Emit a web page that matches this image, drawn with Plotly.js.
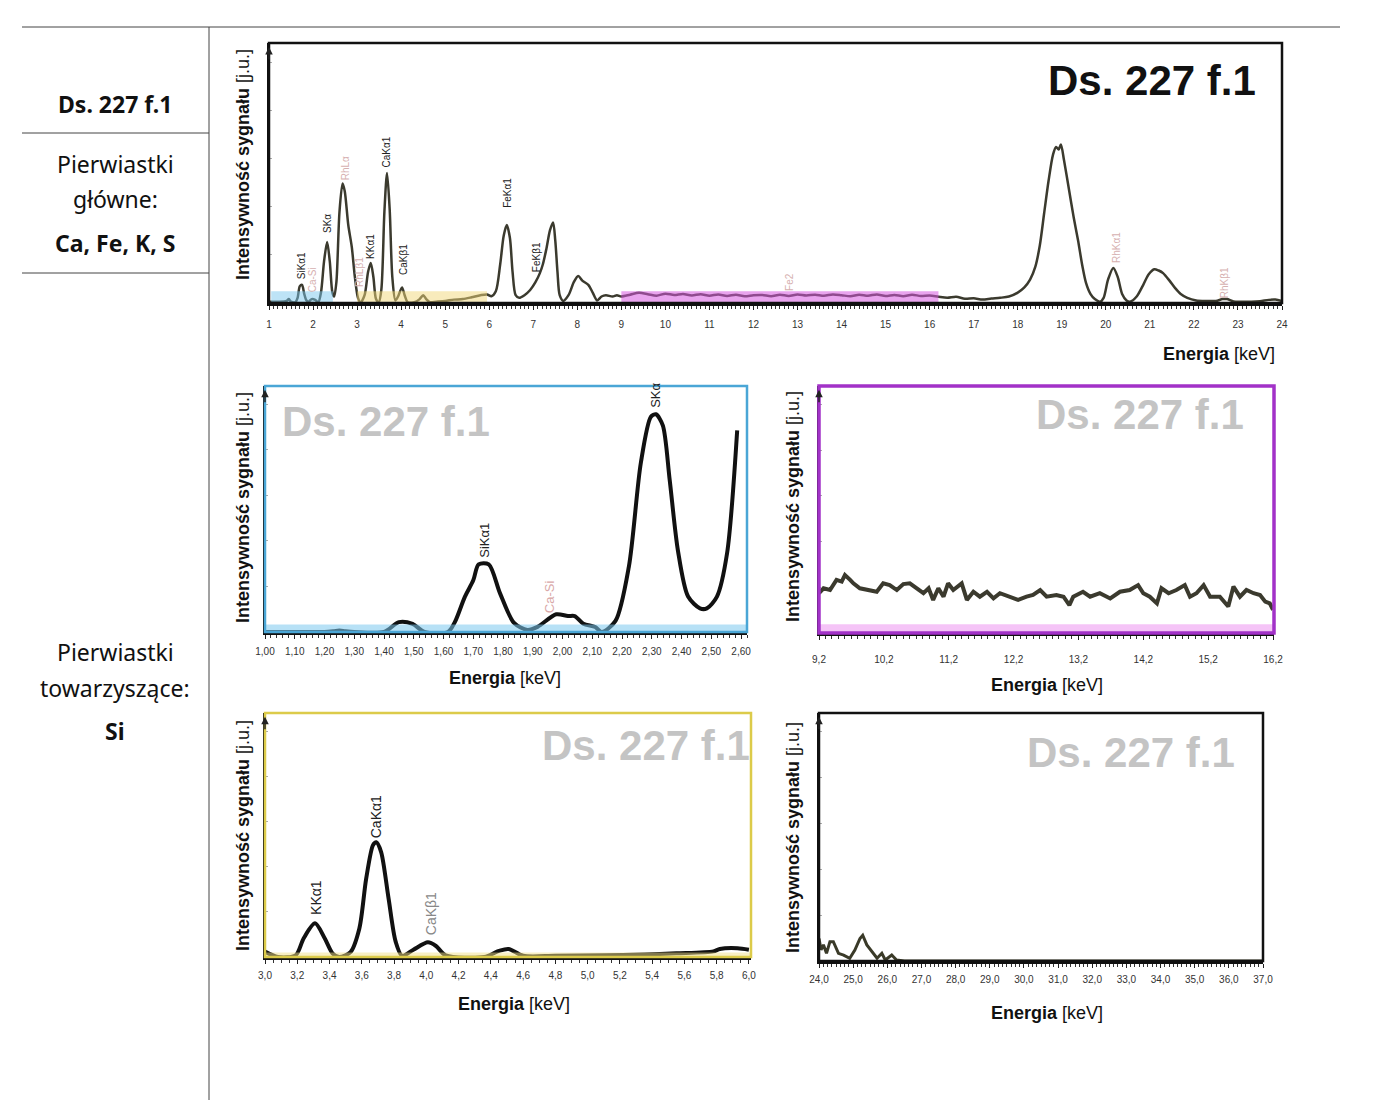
<!DOCTYPE html>
<html>
<head>
<meta charset="utf-8">
<script src="https://cdn.plot.ly/plotly-3.0.1.min.js"></script>
<style>html,body{margin:0;padding:0;background:#fff;}#chart{width:1400px;height:1100px;}</style>
</head>
<body>
<div id="chart"></div>
<script>
// ---------- DATA ----------
// Overview spectrum (1–24 keV)
const topX = [1.0,1.2,1.4,1.45,1.5,1.6,1.65,1.7,1.75,1.8,1.85,1.9,1.97,2.05,2.12,2.18,2.25,2.32,2.38,2.44,2.48,2.53,2.6,2.67,2.72,2.8,2.88,2.95,3.02,3.08,3.17,3.25,3.31,3.37,3.43,3.49,3.55,3.62,3.68,3.74,3.8,3.87,3.93,4.02,4.08,4.15,4.3,4.42,4.5,4.57,4.65,4.8,5.0,5.2,5.4,5.6,5.8,5.95,6.05,6.15,6.25,6.33,6.4,6.47,6.53,6.6,6.68,6.8,6.93,7.05,7.15,7.22,7.3,7.38,7.45,7.5,7.55,7.6,7.68,7.8,7.92,8.02,8.12,8.25,8.35,8.45,8.55,8.65,8.8,8.9,9.0,
  9.2,9.4,9.6,9.8,10.0,10.2,10.4,10.6,10.8,11.0,11.2,11.4,11.6,11.8,12.0,12.2,12.4,12.6,12.8,13.0,13.2,13.4,13.6,13.8,14.0,14.2,14.4,14.6,14.8,15.0,15.2,15.4,15.6,15.8,16.0,16.2,
  16.4,16.6,16.8,17.0,17.2,17.4,17.6,17.8,18.0,18.15,18.28,18.4,18.5,18.6,18.7,18.8,18.87,18.93,18.98,19.05,19.17,19.27,19.37,19.47,19.55,19.65,19.75,19.87,19.95,20.05,20.17,20.27,20.37,20.47,20.55,20.7,20.85,20.97,21.1,21.2,21.3,21.45,21.57,21.7,21.85,22.05,22.3,22.5,22.65,22.75,22.9,23.1,23.3,23.5,23.7,23.85,24.0];
const topY = [0.5,0.5,0.8,1.5,0.5,0.3,2,6.5,7,3.5,1,0.5,1.5,1.2,0.3,4,16,23.5,16,4,2.5,8,35,46,43,30,21.5,10,2,0.2,3,12,15.4,10,1.5,0.2,5,35,50,36,10,1,2.5,6,3,0.3,0.3,1.5,3,1.5,0.3,0.5,0.8,1.3,1.5,2.2,3,3.3,2.6,4.5,15,26,30,25,12,3,2,3,5,8,11.5,15,21,28,31,24,12,3,0.8,3,8,10.4,8.5,7,4,1,2.5,3,2.5,3,2.5,
  3.2,3.9,3.4,2.8,3.6,3.1,3.5,2.9,3.4,2.8,3.3,2.7,3.2,2.6,3.0,3.1,2.6,3.2,2.7,3.3,2.9,3.2,2.8,3.3,3.0,2.6,3.2,2.8,3.3,2.7,3.1,2.6,3.2,2.7,2.9,2.4,
  2.0,2.4,1.6,1.8,1.3,1.7,2.0,2.5,4,6,9,14,22,34.6,47,57,60,59,61,55,43,33,24,14,7.7,3.5,1.5,0.5,2,9,13.5,10,3.5,1,0.5,2.5,7,11,13,12.5,11.5,8.5,5.8,3.5,2,1,0.8,0.8,1.5,1.5,0.6,0.5,0.5,0.7,1.2,1.3,0.8];
const topLabels = ["SiKα1","Ca-Si","SKα","RhLα","RhLβ1","KKα1","CaKα1","CaKβ1","FeKα1","FeKβ1","Fe2","RhKα1","RhKβ1"];
const topLabelX = [1.73,1.98,2.34,2.73,3.04,3.29,3.67,4.04,6.40,7.09,12.83,20.23,22.71];
const topLabelY = [14.2,8.8,30.4,51.9,11.9,21.9,58.1,16.9,42.3,17.7,8.1,21.5,7.7];
const topLabelMain = [true,false,true,false,false,true,true,true,true,true,false,false,false];

// Zoom 1.0–2.6 keV
const siX = [1.0,1.1,1.2,1.23,1.25,1.27,1.3,1.4,1.45,1.496,1.536,1.615,1.638,1.672,1.70,1.718,1.752,1.79,1.837,1.882,1.916,1.979,2.018,2.041,2.07,2.11,2.132,2.178,2.223,2.263,2.297,2.314,2.337,2.36,2.388,2.422,2.462,2.485,2.519,2.553,2.587];
const siY = [0,0,0,0.3,0.6,0.3,0,0,4,3.3,0,0,4,14.4,21,27.5,27.5,15.7,3.7,0.8,2.1,7.2,6.5,6.5,3.4,2,0,4.5,26.6,68.6,87.5,88.5,84,62,33,14.4,9.6,9.6,14.4,32,82];
const siLabels = ["SiKα1","Ca-Si","SKα"];
const siLabelX = [1.735,1.955,2.31];
const siLabelY = [37.4,14.2,96.3];

// Zoom 9.2–16.2 keV
const bgX = [9.2,9.27,9.37,9.47,9.55,9.60,9.68,9.73,9.83,9.99,10.09,10.19,10.29,10.40,10.50,10.60,10.71,10.81,10.89,10.96,11.04,11.12,11.19,11.27,11.40,11.48,11.58,11.68,11.79,11.89,11.99,12.14,12.27,12.40,12.50,12.61,12.71,12.86,12.97,13.06,13.12,13.27,13.38,13.53,13.69,13.84,13.99,14.12,14.20,14.30,14.41,14.48,14.59,14.71,14.84,14.92,15.02,15.13,15.23,15.38,15.51,15.59,15.69,15.79,15.90,16.00,16.08,16.15,16.20];
const bgY = [16.1,18.1,17.4,21.5,20.8,23.5,21.5,20.1,18.1,17.4,16.7,20.1,19.4,17.4,19.8,20.1,18.1,16.1,18.1,13.4,18.1,14.7,20.1,17.4,20.1,13.4,16.7,14.7,16.7,14.0,16.1,14.7,13.4,14.7,15.4,17.4,14.7,15.4,14.7,11.3,14.7,16.7,14.7,16.1,14.0,16.7,17.4,19.4,16.1,14.7,12.0,18.1,16.1,17.4,19.4,14.7,16.1,19.4,14.7,14.7,10.7,18.8,14.7,17.4,16.1,15.4,12.7,12.0,9.4];

// Zoom 3.0–6.0 keV
const caX = [3.0,3.08,3.19,3.24,3.31,3.37,3.42,3.46,3.53,3.585,3.627,3.67,3.69,3.72,3.766,3.81,3.85,3.92,4.01,4.06,4.12,4.36,4.45,4.51,4.6,4.8,5.1,5.35,5.55,5.78,5.82,5.93,6.0];
const caY = [2.2,0,0.7,7.7,13.8,7.7,1.4,0,2.0,11.7,32,45.9,47,43,24,6.3,0.5,3,6,4.5,0.7,0,2.5,3.3,0.5,0.5,0.7,1.0,1.5,2.3,3.3,3.6,3];
const caLabels = ["KKα1","CaKα1","CaKβ1"];
const caLabelX = [3.316,3.69,4.03];
const caLabelY = [24.6,57.4,17.6];

// Zoom 24–37 keV
const hiX = [24.0,24.06,24.13,24.22,24.32,24.42,24.57,24.72,24.9,25.05,25.2,25.28,25.4,25.55,25.7,25.84,25.94,26.13,26.27,26.5,28,30,32,34,36,37];
const hiY = [9.1,4.5,6.5,3.1,7.8,7.8,3.1,2.4,1.1,4.4,9.1,10.4,6.5,3.8,1.1,3.1,0.4,2.4,0.4,0,0,0,0,0,0,0];

// ---------- LAYOUT HELPERS ----------
const W = 1400, H = 1100;
const px = x => x / W;
const py = y => 1 - y / H;
const FONT = 'Liberation Sans, Arial, sans-serif';
const LINE = '#3b3a2e';

function xAxis(x0, x1, range, dtick, fmt, minorDt, standoff, tick0) {
  return {
    domain: [px(x0), px(x1)], range: range, showgrid: false, zeroline: false,
    showline: true, linecolor: '#111', linewidth: 2.5,
    ticks: 'outside', ticklen: 4, tickwidth: 1, tickcolor: '#222',
    dtick: dtick, tick0: (tick0 !== undefined ? tick0 : range[0]), tickformat: fmt,
    minor: {ticks: 'outside', ticklen: 3, tickcolor: '#333', dtick: minorDt, tick0: range[0]},
    tickfont: {family: FONT, size: 10, color: '#333'},
    ticklabelstandoff: standoff, fixedrange: true
  };
}
function yAxis(y0, y1) {
  return {
    domain: [py(y1), py(y0)], range: [0, 100], showgrid: false, zeroline: false,
    showline: true, linecolor: '#111', linewidth: 2,
    ticks: 'inside', ticklen: 3, tickcolor: '#aaa', dtick: 18.5,
    showticklabels: false, fixedrange: true
  };
}

const layout = {
  width: W, height: H, margin: {l: 0, r: 0, t: 0, b: 0},
  paper_bgcolor: '#fff', plot_bgcolor: 'rgba(0,0,0,0)',
  showlegend: false, separators: ', ',
  font: {family: FONT},
  xaxis:  Object.assign(xAxis(269, 1282, [1, 24], 1, 'd', 0.1, 6, 1), {anchor: 'y'}),
  yaxis:  Object.assign(yAxis(43, 303), {anchor: 'x'}),
  xaxis2: Object.assign(xAxis(265, 747, [1.0, 2.62], 0.1, '.2f', 0.02, 4, 1.0), {anchor: 'y2'}),
  yaxis2: Object.assign(yAxis(386, 632), {anchor: 'x2'}),
  xaxis3: Object.assign(xAxis(819, 1274, [9.2, 16.215], 1, '.1f', 0.1, 11, 9.2), {anchor: 'y3'}),
  yaxis3: Object.assign(yAxis(386, 633), {anchor: 'x3'}),
  xaxis4: Object.assign(xAxis(265, 751, [3.0, 6.013], 0.2, '.1f', 0.05, 3, 3.0), {anchor: 'y4'}),
  yaxis4: Object.assign(yAxis(713, 957), {anchor: 'x4'}),
  xaxis5: Object.assign(xAxis(819, 1263, [24, 37], 1, '.1f', 0.125, 3, 24), {anchor: 'y5'}),
  yaxis5: Object.assign(yAxis(713, 961), {anchor: 'x5'}),
  shapes: [], annotations: []
};

// page table lines
const tbl = '#444';
layout.shapes.push(
  {type: 'line', xref: 'paper', yref: 'paper', x0: px(22), x1: px(1340), y0: py(27), y1: py(27), line: {color: tbl, width: 1}},
  {type: 'line', xref: 'paper', yref: 'paper', x0: px(209), x1: px(209), y0: py(27), y1: py(1100), line: {color: tbl, width: 1}},
  {type: 'line', xref: 'paper', yref: 'paper', x0: px(22), x1: px(209), y0: py(133), y1: py(133), line: {color: tbl, width: 1}},
  {type: 'line', xref: 'paper', yref: 'paper', x0: px(22), x1: px(209), y0: py(273), y1: py(273), line: {color: tbl, width: 1}}
);

// coloured bands
function band(xr, x0, x1, y0, y1, color, op) {
  layout.shapes.push({type: 'rect', xref: xr, yref: xr.replace('x', 'y') + ' domain', x0: x0, x1: x1, y0: y0, y1: y1,
    fillcolor: color, opacity: op, line: {width: 0}, layer: 'above'});
}
band('x', 1.05, 2.45, 0, 0.045, '#7cc8ee', 0.5);
band('x', 3.0, 5.95, 0, 0.045, '#f2d779', 0.5);
band('x', 9.0, 16.2, 0, 0.045, '#d75ae0', 0.55);
band('x2', 1.0, 2.62, 0, 0.03, '#7cc8ee', 0.55);
band('x3', 9.2, 16.215, 0, 0.035, '#ee9cf2', 0.6);
band('x4', 3.0, 6.013, 0, 0.018, '#f2e08a', 0.5);

// frames
function frame(xr, color, w) {
  layout.shapes.push({type: 'rect', xref: xr + ' domain', yref: xr.replace('x', 'y') + ' domain', x0: 0, x1: 1, y0: 0, y1: 1.0,
    line: {color: color, width: w}, fillcolor: 'rgba(0,0,0,0)', layer: 'above'});
}
frame('x', '#111', 2.5);
frame('x2', '#4aa6d6', 2.5);
frame('x3', '#a232c8', 3.5);
frame('x4', '#dccb4a', 2.5);
frame('x5', '#111', 2.5);

// small arrow heads at the top of each y axis
['x', 'x2', 'x3', 'x4', 'x5'].forEach(xr => {
  layout.annotations.push({text: '', xref: xr + ' domain', yref: xr.replace('x', 'y') + ' domain', x: 0, y: 0.985,
    ax: 0, ay: 14, axref: 'pixel', ayref: 'pixel', showarrow: true, arrowhead: 2, arrowsize: 1, arrowwidth: 1.5, arrowcolor: '#222'});
});

// annotations helper (paper pixel coords)
function txt(text, x, y, size, opts) {
  layout.annotations.push(Object.assign({
    text: text, xref: 'paper', yref: 'paper', x: px(x), y: py(y), xanchor: 'center', yanchor: 'middle',
    showarrow: false, font: {family: FONT, size: size, color: '#111'}
  }, opts || {}));
}
// left table column
const CAL = 'Noto Sans, Open Sans, sans-serif';
const calFont = {family: CAL, size: 23, color: '#111'};
txt('<b>Ds. 227 f.1</b>', 115, 104, 23, {font: calFont});
txt('Pierwiastki', 115, 164, 23, {font: calFont});
txt('główne:', 115, 199, 23, {font: calFont});
txt('<b>Ca, Fe, K, S</b>', 115, 243, 23, {font: calFont});
txt('Pierwiastki', 115, 652, 23, {font: calFont});
txt('towarzyszące:', 115, 688, 23, {font: calFont});
txt('<b>Si</b>', 115, 731, 23, {font: calFont});

// big sample titles
txt('<b>Ds. 227 f.1</b>', 1152, 80, 42, {font: {family: FONT, size: 42, color: '#111'}});
const GREY = '#c4c4c4';
txt('<b>Ds. 227 f.1</b>', 386, 422, 42, {font: {family: FONT, size: 42, color: GREY}});
txt('<b>Ds. 227 f.1</b>', 1140, 415, 42, {font: {family: FONT, size: 42, color: GREY}});
txt('<b>Ds. 227 f.1</b>', 646, 745, 42, {font: {family: FONT, size: 42, color: GREY}});
txt('<b>Ds. 227 f.1</b>', 1131, 752, 42, {font: {family: FONT, size: 42, color: GREY}});

// axis titles
const YT = '<b>Intensywność sygnału</b> [j.u.]';
const XT = '<b>Energia</b> [keV]';
txt(YT, 243, 165, 18, {textangle: -90});
txt(YT, 243, 508, 18, {textangle: -90});
txt(YT, 793, 507, 18, {textangle: -90});
txt(YT, 243, 836, 18, {textangle: -90});
txt(YT, 793, 838, 18, {textangle: -90});
txt(XT, 1277, 354, 18, {xanchor: 'right'});
txt(XT, 505, 678, 18);
txt(XT, 1047, 685, 18);
txt(XT, 514, 1004, 18);
txt(XT, 1047, 1013, 18);

// peak labels
function peakLabels(xr, labels, xs, ys, size, colors) {
  labels.forEach((t, i) => {
    layout.annotations.push({text: t, xref: xr, yref: xr.replace('x', 'y'), x: xs[i], y: ys[i],
      xanchor: 'center', yanchor: 'middle', textangle: -90, showarrow: false,
      font: {family: FONT, size: size, color: colors[i]}});
  });
}
peakLabels('x', topLabels, topLabelX, topLabelY, 10, topLabelMain.map(m => m ? '#222' : '#d6b0b0'));
peakLabels('x2', siLabels, siLabelX, siLabelY, 13, ['#222', '#d9a8a8', '#222']);
peakLabels('x4', caLabels, caLabelX, caLabelY, 14, ['#222', '#222', '#888']);

// ---------- TRACES ----------
const traces = [
  {x: topX, y: topY, xaxis: 'x', yaxis: 'y', type: 'scatter', mode: 'lines',
   line: {color: LINE, width: 2.5, shape: 'spline', smoothing: 0.8}, hoverinfo: 'skip'},
  {x: siX, y: siY, xaxis: 'x2', yaxis: 'y2', type: 'scatter', mode: 'lines',
   line: {color: '#111', width: 4, shape: 'spline', smoothing: 0.8}, hoverinfo: 'skip'},
  {x: bgX, y: bgY, xaxis: 'x3', yaxis: 'y3', type: 'scatter', mode: 'lines',
   line: {color: LINE, width: 4}, hoverinfo: 'skip'},
  {x: caX, y: caY, xaxis: 'x4', yaxis: 'y4', type: 'scatter', mode: 'lines',
   line: {color: '#111', width: 4, shape: 'spline', smoothing: 0.8}, hoverinfo: 'skip'},
  {x: hiX, y: hiY, xaxis: 'x5', yaxis: 'y5', type: 'scatter', mode: 'lines',
   line: {color: '#3a3a28', width: 3}, hoverinfo: 'skip'}
];

Plotly.newPlot('chart', traces, layout, {staticPlot: true, displayModeBar: false});
</script>
</body>
</html>
